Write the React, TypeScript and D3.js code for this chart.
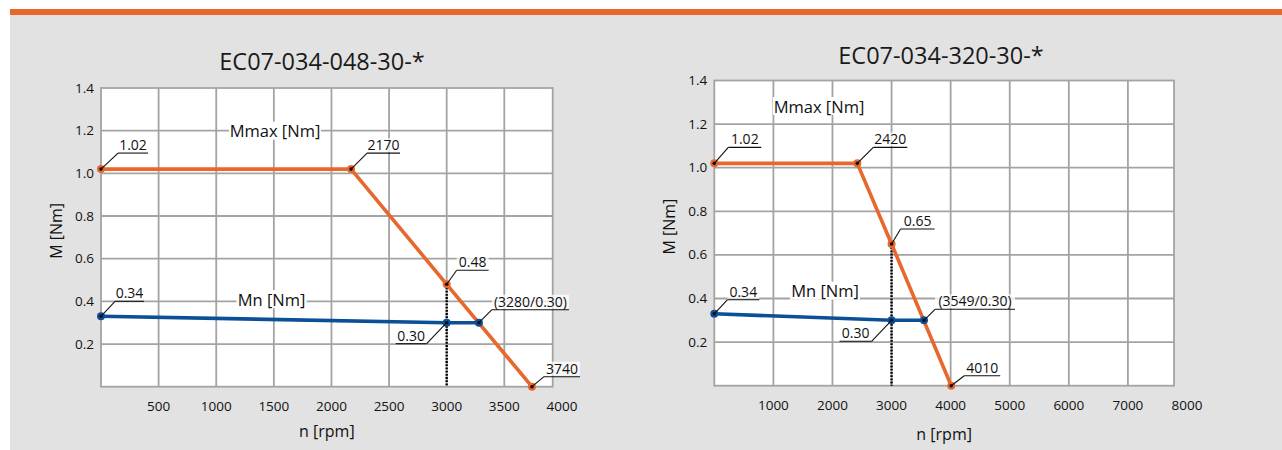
import React from "react";
import * as d3 from "d3";

const FONT = "'Open Sans', 'Noto Sans', sans-serif";
const ORANGE = "#E8672C";
const BLUE = "#0B4F97";
const GRID = "#A3A3A3";
const BG = "#E2E2E2";

// ---- data ----
const yTicks = [0.2, 0.4, 0.6, 0.8, 1.0, 1.2, 1.4];

const chart1Title = "EC07-034-048-30-*";
const chart1XTicks = [500, 1000, 1500, 2000, 2500, 3000, 3500, 4000];
const chart1MmaxN = [0, 2170, 3000, 3740];
const chart1MmaxM = [1.02, 1.02, 0.48, 0];
const chart1MnN = [0, 3000, 3280];
const chart1MnM = [0.33, 0.3, 0.3];
const chart1RefN = 3000;

const chart2Title = "EC07-034-320-30-*";
const chart2XTicks = [1000, 2000, 3000, 4000, 5000, 6000, 7000, 8000];
const chart2MmaxN = [0, 2420, 3000, 4010];
const chart2MmaxM = [1.02, 1.02, 0.65, 0];
const chart2MnN = [0, 3000, 3549];
const chart2MnM = [0.33, 0.3, 0.3];
const chart2RefN = 3000;

// annotation labels: [n, M, text]
const chart1Notes = [
  [0, 1.02, "1.02"],
  [2170, 1.02, "2170"],
  [3000, 0.48, "0.48"],
  [3280, 0.3, "(3280/0.30)"],
  [3000, 0.3, "0.30"],
  [3740, 0, "3740"],
  [0, 0.33, "0.34"],
];
const chart2Notes = [
  [0, 1.02, "1.02"],
  [2420, 1.02, "2420"],
  [3000, 0.65, "0.65"],
  [0, 0.33, "0.34"],
  [3000, 0.3, "0.30"],
  [3549, 0.3, "(3549/0.30)"],
  [4010, 0, "4010"],
];

// leader styles (dx, dy, underline length) per annotation
const chart1NoteStyle = [
  [17, -16, 30],
  [16, -16, 33],
  [10, -14, 32],
  [13, -13, 77],
  [-20, 21, 31],
  [12, -10, 36],
  [14, -15, 29],
];
const chart2NoteStyle = [
  [14, -16, 33],
  [16, -16, 34],
  [9, -15, 34],
  [13, -14, 32],
  [-20, 21, 32],
  [11, -11, 80],
  [13, -10, 36],
];

const cfg1 = {
  title: chart1Title, xTicks: chart1XTicks, xMax: 3920,
  mmaxN: chart1MmaxN, mmaxM: chart1MmaxM, mnN: chart1MnN, mnM: chart1MnM, refN: chart1RefN,
  notes: chart1Notes, noteStyle: chart1NoteStyle,
  left: 101, right: 552.7, top: 88, bottom: 386.7,
  titleX: 322, titleY: 70, xLabelDy: 50,
  mmaxLabel: [1510, 1.2], mnLabel: [1480, 0.41],
};
const cfg2 = {
  title: chart2Title, xTicks: chart2XTicks, xMax: 7780,
  mmaxN: chart2MmaxN, mmaxM: chart2MmaxM, mnN: chart2MnN, mnM: chart2MnM, refN: chart2RefN,
  notes: chart2Notes, noteStyle: chart2NoteStyle,
  left: 714.3, right: 1174, top: 80.5, bottom: 385.7,
  titleX: 941, titleY: 63.5, xLabelDy: 54,
  mmaxLabel: [1772, 1.283], mnLabel: [1874, 0.436],
};

function Chart({ c }: { c: any }) {
  const x = d3.scaleLinear().domain([0, c.xMax]).range([c.left, c.right]);
  const y = d3.scaleLinear().domain([0, 1.4]).range([c.bottom, c.top]);
  const line = d3.line<[number, number]>().x((d) => x(d[0])).y((d) => y(d[1]));
  const mmax: [number, number][] = c.mmaxN.map((n: number, i: number) => [n, c.mmaxM[i]]);
  const mn: [number, number][] = c.mnN.map((n: number, i: number) => [n, c.mnM[i]]);
  const refIdx = c.mmaxN.indexOf(c.refN);
  const refM = c.mmaxM[refIdx];
  const cy = (c.top + c.bottom) / 2;
  const cx = (c.left + c.right) / 2;

  return (
    <g>
      <text x={c.titleX} y={c.titleY} textAnchor="middle" fontSize={23.5} fill="#1a1a1a" fontFamily={FONT}>
        {c.title}
      </text>
      <rect x={c.left} y={c.top} width={c.right - c.left} height={c.bottom - c.top} fill="#fff" />
      {c.xTicks.filter((t: number) => t < c.xMax).map((t: number) => (
        <line key={"vx" + t} x1={x(t)} x2={x(t)} y1={c.top} y2={c.bottom} stroke={GRID} strokeWidth={1.8} />
      ))}
      {yTicks.filter((t) => t < 1.4).map((t) => (
        <line key={"hy" + t} x1={c.left} x2={c.right} y1={y(t)} y2={y(t)} stroke={GRID} strokeWidth={1.8} />
      ))}
      <rect x={c.left} y={c.top} width={c.right - c.left} height={c.bottom - c.top} fill="none" stroke={GRID} strokeWidth={1.8} />
      {c.xTicks.map((t: number) => (
        <text key={"tx" + t} x={x(t)} y={c.bottom + 24} textAnchor="middle" fontSize={13.5} fill="#111" fontFamily={FONT}>
          {t}
        </text>
      ))}
      {yTicks.map((t) => (
        <text key={"ty" + t} x={c.left - 7} y={y(t) + 4.5} textAnchor="end" fontSize={13.5} fill="#111" fontFamily={FONT}>
          {t.toFixed(1)}
        </text>
      ))}
      <text x={cx} y={c.bottom + c.xLabelDy} textAnchor="middle" fontSize={16} fill="#111" fontFamily={FONT}>
        n [rpm]
      </text>
      <text transform={`translate(${c.left - 45},${cy - 6.5}) rotate(-90)`} textAnchor="middle" dominantBaseline="central" fontSize={16} fill="#111" fontFamily={FONT}>
        M [Nm]
      </text>
      {/* series labels */}
      <rect x={x(c.mmaxLabel[0]) - 46} y={y(c.mmaxLabel[1]) - 9} width={92} height={18} fill="#fff" />
      <text x={x(c.mmaxLabel[0])} y={y(c.mmaxLabel[1])} textAnchor="middle" dominantBaseline="central" fontSize={16.5} fill="#111" fontFamily={FONT}>
        Mmax [Nm]
      </text>
      <rect x={x(c.mnLabel[0]) - 35} y={y(c.mnLabel[1]) - 9} width={70} height={18} fill="#fff" />
      <text x={x(c.mnLabel[0])} y={y(c.mnLabel[1])} textAnchor="middle" dominantBaseline="central" fontSize={16.5} fill="#111" fontFamily={FONT}>
        Mn [Nm]
      </text>
      {/* reference dotted line */}
      <line x1={x(c.refN)} x2={x(c.refN)} y1={y(refM)} y2={y(0)} stroke="#000" strokeWidth={2.4} strokeDasharray="1.8,1.4" />
      <path d={line(mmax) || ""} fill="none" stroke={ORANGE} strokeWidth={3.6} strokeLinejoin="round" />
      <path d={line(mn) || ""} fill="none" stroke={BLUE} strokeWidth={3.6} strokeLinejoin="round" />
      {mmax.map((d, i) => (
        <circle key={"om" + i} cx={x(d[0])} cy={y(d[1])} r={4} fill={ORANGE} />
      ))}
      {mn.map((d, i) => (
        <circle key={"bm" + i} cx={x(d[0])} cy={y(d[1])} r={4} fill={BLUE} />
      ))}
      {/* annotations */}
      {c.notes.map((nt: any, i: number) => {
        const [dx, dy, len] = c.noteStyle[i];
        const px = x(nt[0]);
        const py = y(nt[1]);
        const ex = px + dx;
        const ey = py + dy;
        const ux2 = dx >= 0 ? ex + len : ex - len;
        const mid = (ex + ux2) / 2;
        return (
          <g key={"n" + i}>
            <rect x={mid - len / 2} y={ey - 15} width={len} height={14} fill="#fff" fillOpacity={0.75} />
            <line x1={px} y1={py} x2={ex} y2={ey} stroke="#111" strokeWidth={1.1} />
            <line x1={ex} y1={ey} x2={ux2} y2={ey} stroke="#111" strokeWidth={1.1} />
            <circle cx={px} cy={py} r={1.8} fill="#111" />
            <text x={mid} y={ey - 3} textAnchor="middle" fontSize={14} fill="#111" fontFamily={FONT}>
              {nt[2]}
            </text>
          </g>
        );
      })}
    </g>
  );
}

export default function App() {
  return (
    <svg
      width={1282}
      height={450}
      style={{ position: "absolute", left: 0, top: 0, display: "block" }}
    >
      <rect x={0} y={0} width={1282} height={450} fill="#fff" />
      <rect x={10} y={15} width={1272} height={435} fill={BG} />
      <rect x={10} y={9} width={1272} height={6} fill={ORANGE} />
      <Chart c={cfg1} />
      <Chart c={cfg2} />
    </svg>
  );
}
